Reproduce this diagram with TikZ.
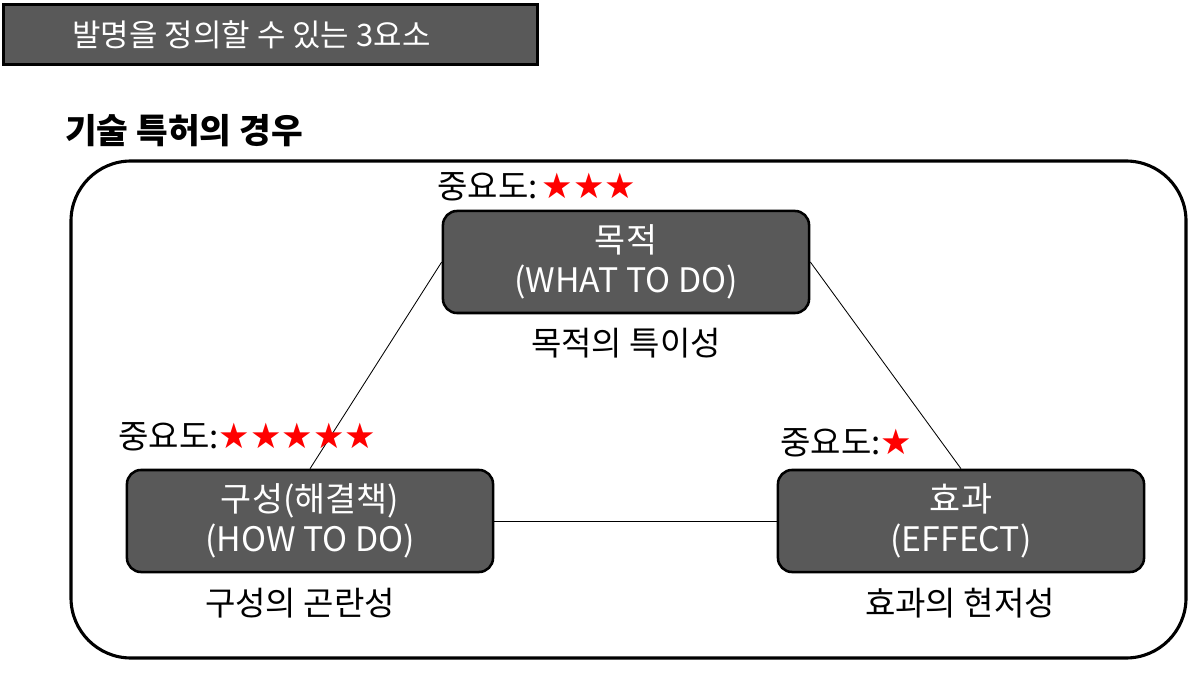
\documentclass[tikz,border=0pt]{standalone}
\usepackage{fontspec}
\setmainfont{Noto Sans CJK KR}
\newfontfamily\starfont{DejaVu Sans}
\usepackage{xcolor}
\usepackage{tikz}
\usetikzlibrary{positioning}
\definecolor{boxgray}{RGB}{89, 89, 89}
\definecolor{starred}{RGB}{255, 0, 0}
\newcommand{\starrow}[1]{\textcolor{starred}{\starfont\fontsize{25}{25}\selectfont #1}}

\begin{document}
\begin{tikzpicture}[x=0.025cm, y=-0.025cm,
    elembox/.style={fill=boxgray, draw=black, line width=1.8pt, rounded corners=10pt,
          minimum width=9.15cm, minimum height=2.55cm, align=center, text=white,
          font=\fontsize{24}{28}\selectfont},
    caption/.style={font=\fontsize{23.5}{26}\selectfont, inner sep=0pt},
    link/.style={draw=black, line width=0.6pt}]
    \useasboundingbox (0,0) rectangle (1200,674);

    % title and heading
    \node[fill=boxgray, draw=black, line width=1.6pt, minimum width=13.35cm, minimum height=1.5cm,
          text=white, font=\fontsize{22}{26}\selectfont] (title) at (270.5,34.5)
          {발명을 정의할 수 있는 3요소\hspace*{0.95cm}};
    \node[anchor=west, inner sep=0pt, font=\fontsize{24.5}{28}\selectfont\bfseries] (heading) at (65,131)
          {기술 특허의 경우};

    % frame
    \draw[line width=2.2pt, rounded corners=1.5cm] (71,161) rectangle (1186,658);

    % three elements
    \node[elembox] (purpose) at (626,262) {목적\\(WHAT TO DO)};
    \node[elembox] (means) at (310,521) {구성(해결책)\\(HOW TO DO)};
    \node[elembox] (effect) at (961,521) {효과\\(EFFECT)};

    \draw[link] (purpose.west) -- (means.north);
    \draw[link] (purpose.east) -- (effect.north);
    \draw[link] (means.east) -- (effect.west);

    % importance
    \node[caption, anchor=west] (purposestar) at (437,187) {중요도:\hspace{0.12em}\starrow{★★★}};
    \node[caption, anchor=west] (meansstar) at (118,437) {중요도:\starrow{★★★★★}};
    \node[caption, anchor=west] (effectstar) at (780,443) {중요도:\starrow{★}};

    % captions
    \node[caption] (purposecap) at (626,343) {목적의 특이성};
    \node[caption] (meanscap) at (300,603) {구성의 곤란성};
    \node[caption] (effectcap) at (960,603) {효과의 현저성};
\end{tikzpicture}
\end{document}
